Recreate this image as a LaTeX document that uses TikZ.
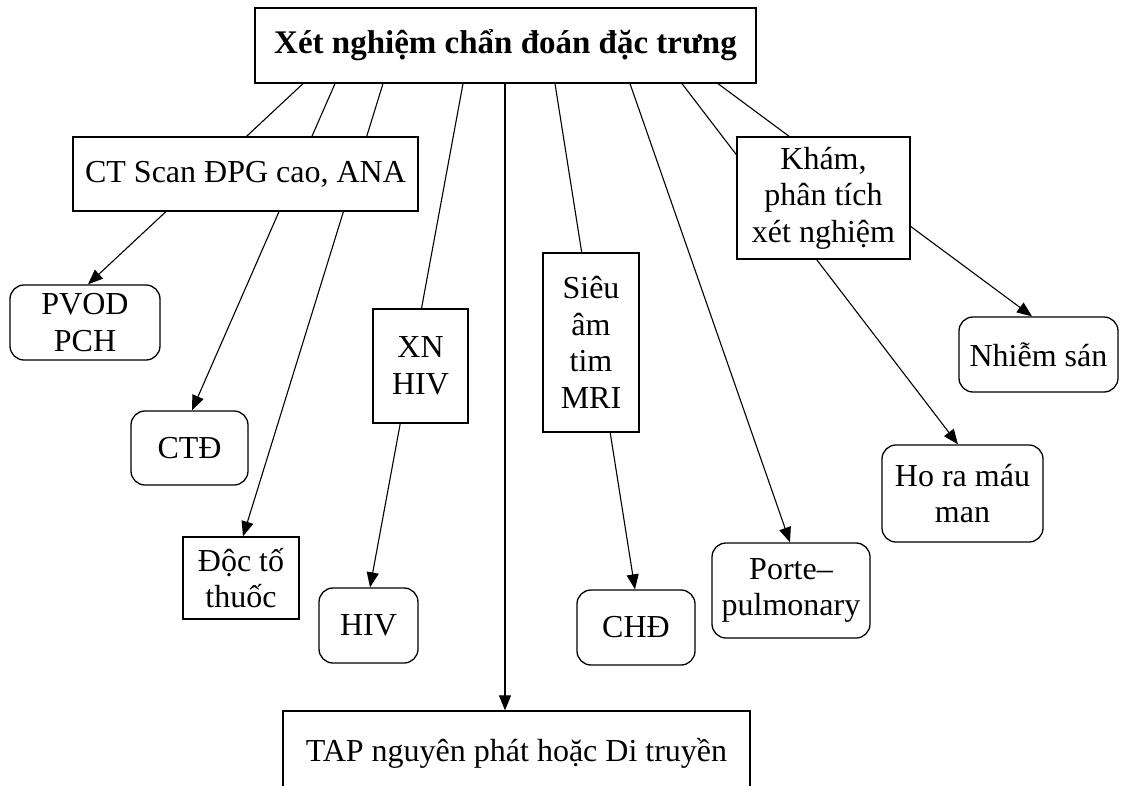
\documentclass[tikz,border=0pt]{standalone}
\usepackage{fontspec}
\setmainfont{Liberation Serif}
\usetikzlibrary{arrows.meta,backgrounds}
\begin{document}
\begin{tikzpicture}[x=1pt,y=-1pt,
  box/.style={draw, line width=1.3pt, fill=white, align=center, inner sep=0pt,
    font=\fontsize{32}{36.5}\selectfont},
  soft/.style={box, rounded corners=14pt},
  link/.style={line width=1.1pt, -{Triangle[length=15pt,width=12pt]}},
]
\useasboundingbox (0,0) rectangle (1121,785);
\clip (0,0) rectangle (1121,785);

% main heading
\node[box, minimum width=501pt, minimum height=75pt,
      font=\fontsize{33}{36}\selectfont\bfseries] (top) at (505.5,45.5)
  {Xét nghiệm chẩn đoán đặc trưng};

% intermediate test boxes
\node[box, minimum width=345pt, minimum height=74pt] (ct) at (245.5,174) {CT Scan ĐPG cao, ANA};
\node[box, minimum width=95pt, minimum height=114pt] (xn) at (420.5,366) {XN\\HIV};
\node[box, minimum width=96pt, minimum height=179pt] (sieu) at (591,342.5) {Siêu\\âm\\tim\\MRI};
\node[box, minimum width=173pt, minimum height=122pt] (kham) at (823.5,198) {Khám,\\phân tích\\xét nghiệm};

% outcomes
\node[soft, minimum width=150pt, minimum height=75pt] (pvod) at (85,322.5) {PVOD\\PCH};
\node[soft, minimum width=117pt, minimum height=74pt] (ctd) at (189.5,448) {CTĐ};
\node[box, minimum width=116pt, minimum height=82pt] (doc) at (241,578) {Độc tố\\thuốc};
\node[soft, minimum width=99pt, minimum height=75pt] (hiv) at (368.5,625.5) {HIV};
\node[soft, minimum width=118pt, minimum height=75pt] (chd) at (636,627.5) {CHĐ};
\node[soft, minimum width=158pt, minimum height=95pt] (porte) at (791,590.5) {Porte–\\pulmonary};
\node[soft, minimum width=159pt, minimum height=75pt] (nhiem) at (1038.5,354.5) {Nhiễm sán};
\node[soft, minimum width=161pt, minimum height=97pt] (ho) at (962.5,493.5) {Ho ra máu\\man};
\node[box, minimum width=467pt, minimum height=84pt] (tap) at (516.5,753) {TAP nguyên phát hoặc Di truyền};

% connectors run behind the intermediate boxes
\begin{pgfonlayer}{background}
\draw[link] ([xshift=-202.5pt]top.south) -- ([xshift=3pt]pvod.north);
\draw[link] ([xshift=-170.5pt]top.south) -- ([xshift=2.5pt]ctd.north);
\draw[link] ([xshift=-122.5pt]top.south) -- ([xshift=2pt]doc.north);
\draw[link] ([xshift=-42.5pt]top.south) -- ([xshift=1.5pt]hiv.north);
\draw[link] ([xshift=-0.5pt]top.south) -- ([xshift=-11.5pt]tap.north);
\draw[link] ([xshift=49.5pt]top.south) -- ([xshift=-1pt]chd.north);
\draw[link] ([xshift=124.5pt]top.south) -- ([xshift=-1pt]porte.north);
\draw[link] ([xshift=176.5pt]top.south) -- ([xshift=-4.5pt]ho.north);
\draw[link] ([xshift=212.5pt]top.south) -- ([xshift=-6.5pt]nhiem.north);
\end{pgfonlayer}
\end{tikzpicture}
\end{document}
